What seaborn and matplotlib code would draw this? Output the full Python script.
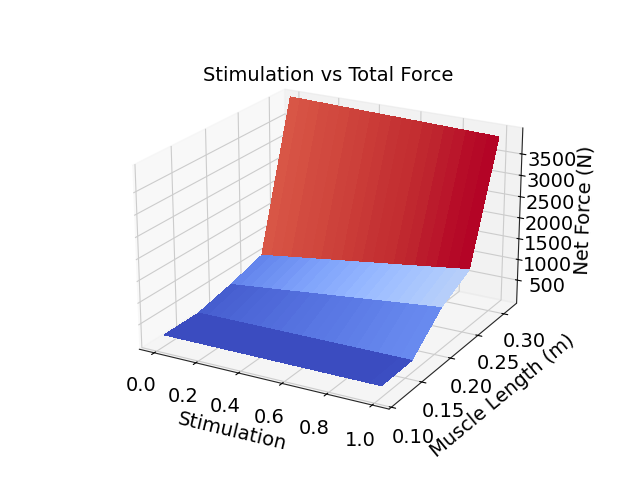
"""
Net muscle force surface over stimulation and muscle length.
Usage: python plot.py
"""
import matplotlib

matplotlib.use("Agg")
import matplotlib.pyplot as plt
import numpy as np
import seaborn as sns

stimulation = [0.00, 0.05, 0.10, 0.15, 0.20, 0.25, 0.30, 0.35, 0.40, 0.45, 0.50,
               0.55, 0.60, 0.65, 0.70, 0.75, 0.80, 0.85, 0.90, 0.95, 1.00]
muscle_length = [0.111, 0.161, 0.211, 0.261, 0.311]

# net force (N), one row per muscle length, one column per stimulation level
force_l0 = [200, 200, 200, 200, 200, 200, 200, 200, 200, 200, 200,
            200, 200, 200, 200, 200, 200, 200, 200, 200, 200]
force_l1 = [200, 201, 202, 203, 204, 205, 206, 207, 208, 209, 210,
            211, 212, 213, 214, 215, 216, 217, 218, 219, 220]
force_l2 = [390, 416, 442, 468, 494, 520, 546, 572, 598, 624, 650,
            676, 702, 728, 754, 780, 806, 832, 858, 884, 910]
force_l3 = [630, 664, 697, 731, 764, 798, 831, 865, 898, 932, 965,
            999, 1032, 1066, 1099, 1133, 1166, 1200, 1233, 1267, 1300]
force_l4 = [4080, 4074, 4067, 4061, 4054, 4048, 4041, 4035, 4028, 4022, 4015,
            4009, 4002, 3996, 3989, 3983, 3976, 3970, 3963, 3957, 3950]

stim_ticks = [0.0, 0.2, 0.4, 0.6, 0.8, 1.0]
length_ticks = [0.10, 0.15, 0.20, 0.25, 0.30]
force_ticks = [500, 1000, 1500, 2000, 2500, 3000, 3500]


def main() -> None:
    sns.set_style("white")
    plt.rcParams["font.family"] = ["DejaVu Sans"]
    plt.rcParams.update({
        "font.size": 14,
        "text.color": "black",
        "axes.labelcolor": "black",
        "xtick.color": "black",
        "ytick.color": "black",
    })

    X, Y = np.meshgrid(stimulation, muscle_length)
    Z = np.array([force_l0, force_l1, force_l2, force_l3, force_l4], dtype=float)

    cmap = sns.color_palette("coolwarm", as_cmap=True)

    fig = plt.figure(figsize=(6.4, 4.8), dpi=100)
    ax = fig.add_subplot(projection="3d")
    ax.plot_surface(X, Y, Z, cmap=cmap, linewidth=0, antialiased=False)
    ax.view_init(elev=21, azim=-61)
    ax.set_box_aspect((3.48, 3.6, 2.4), zoom=1.168)
    ax.set_xlim(-0.073, 1.073)
    ax.set_ylim(0.0964, 0.3256)
    ax.set_zlim(-65, 4105)
    ax.set_xticks(stim_ticks)
    ax.set_yticks(length_ticks)
    ax.set_zticks(force_ticks)
    ax.set_title("Stimulation vs Total Force", fontsize=14, y=0.995)
    ax.set_xlabel("Stimulation")
    ax.set_ylabel("Muscle Length (m)")
    ax.set_zlabel("Net Force (N)")

    fig.savefig("out.png", dpi=100)
    plt.close(fig)


if __name__ == "__main__":
    main()
